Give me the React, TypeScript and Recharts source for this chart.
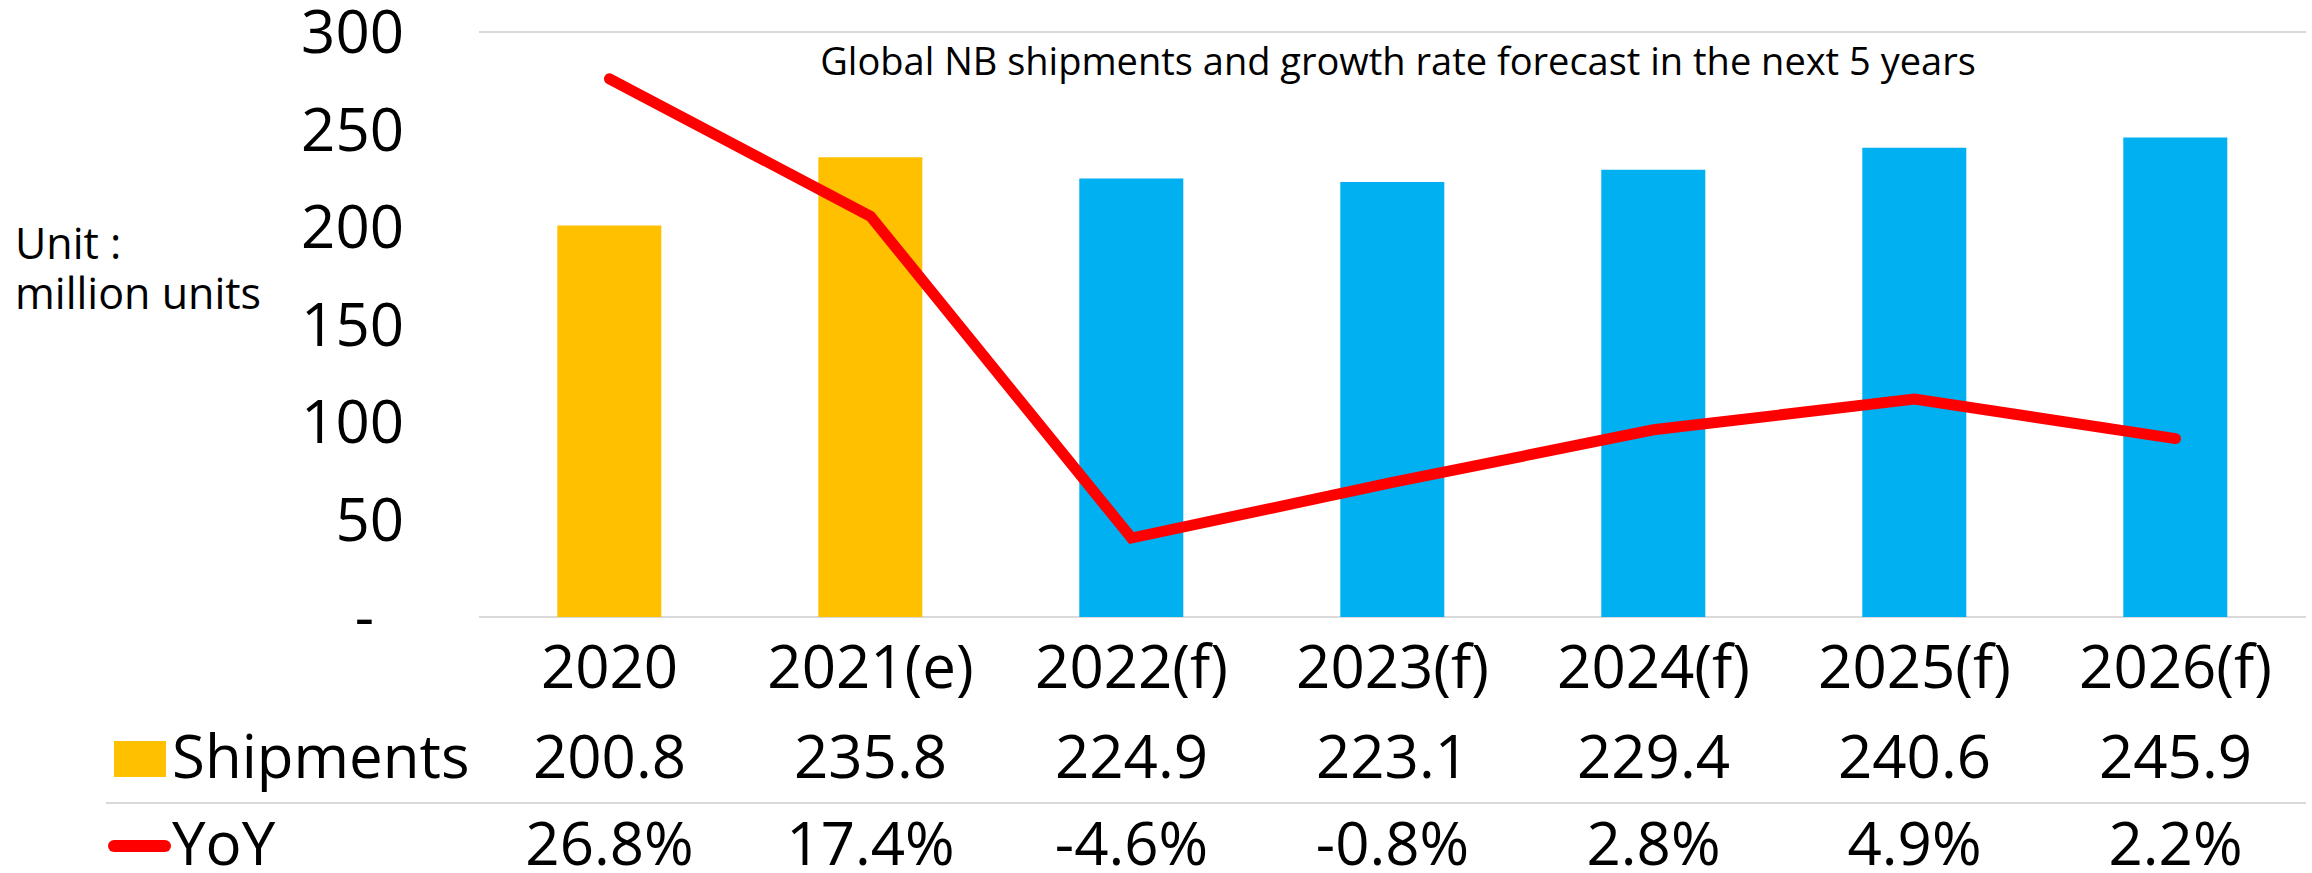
import React from "react";
import { ComposedChart, Bar, Line, XAxis, YAxis, CartesianGrid, Cell, Customized } from "recharts";

const categories = ["2020", "2021(e)", "2022(f)", "2023(f)", "2024(f)", "2025(f)", "2026(f)"];
const shipments = [200.8, 235.8, 224.9, 223.1, 229.4, 240.6, 245.9];
const yoy = [26.8, 17.4, -4.6, -0.8, 2.8, 4.9, 2.2];
const estimated = [true, true, false, false, false, false, false];
const yTicks = [0, 50, 100, 150, 200, 250, 300];

const data = categories.map((category, i) => ({ category, shipments: shipments[i], yoy: yoy[i] }));

const FONT = "'Open Sans', 'Noto Sans', sans-serif";
const ORANGE = "#FFC000";
const BLUE = "#00B0F0";
const RED = "#FF0000";
const GRID = "#D9D9D9";

const YTick = (props: any) => {
  const { y, payload } = props;
  const isZero = payload.value === 0;
  return (
    <text x={isZero ? 374 : 404} y={y} dy="0.35em" textAnchor="end" fontSize={60} fontFamily={FONT} fill="#000">
      {isZero ? "-" : payload.value}
    </text>
  );
};

// category label plus the two data-table rows under it
const XTick = (props: any) => {
  const { x, payload } = props;
  const i = payload.index;
  return (
    <g fontFamily={FONT} fontSize={60} fill="#000" textAnchor="middle">
      <text x={x} y={688}>{categories[i]}</text>
      <text x={x} y={778}>{shipments[i].toFixed(1)}</text>
      <text x={x} y={865}>{yoy[i].toFixed(1) + "%"}</text>
    </g>
  );
};

const Decorations = () => (
  <g fontFamily={FONT} fill="#000">
    <text x={1398} y={75} fontSize={38} textAnchor="middle">
      Global NB shipments and growth rate forecast in the next 5 years
    </text>
    <text x={15} y={259} fontSize={43}>Unit :</text>
    <text x={15} y={309} fontSize={43}>million units</text>
    <line x1={106} x2={2306} y1={803} y2={803} stroke={GRID} strokeWidth={2} />
    <rect x={114} y={741} width={52} height={36} fill={ORANGE} />
    <text x={172} y={778} fontSize={60}>Shipments</text>
    <line x1={114} x2={165} y1={846} y2={846} stroke={RED} strokeWidth={12} strokeLinecap="round" />
    <text x={172} y={865} fontSize={60}>YoY</text>
  </g>
);

export default function App() {
  return (
    <div style={{ position: "absolute", left: 0, top: 0, background: "#fff" }}>
      <ComposedChart
        width={2312}
        height={873}
        data={data}
        margin={{ top: 32, right: 6, left: 0, bottom: 0 }}
        barCategoryGap="30%"
      >
        <CartesianGrid vertical={false} stroke={GRID} strokeWidth={2} />
        <XAxis
          dataKey="category"
          height={256}
          axisLine={false}
          tickLine={false}
          interval={0}
          tick={<XTick />}
        />
        <YAxis
          yAxisId="left"
          width={479}
          domain={[0, 300]}
          ticks={yTicks}
          axisLine={false}
          tickLine={false}
          tick={<YTick />}
        />
        <YAxis yAxisId="pct" orientation="right" domain={[-10, 30]} hide />
        <Bar yAxisId="left" dataKey="shipments" isAnimationActive={false}>
          {data.map((d, i) => (
            <Cell key={d.category} fill={estimated[i] ? ORANGE : BLUE} />
          ))}
        </Bar>
        <Line
          yAxisId="pct"
          dataKey="yoy"
          stroke={RED}
          strokeWidth={11}
          strokeLinecap="round"
          dot={false}
          activeDot={false}
          isAnimationActive={false}
        />
        <Customized component={<Decorations />} />
      </ComposedChart>
    </div>
  );
}
